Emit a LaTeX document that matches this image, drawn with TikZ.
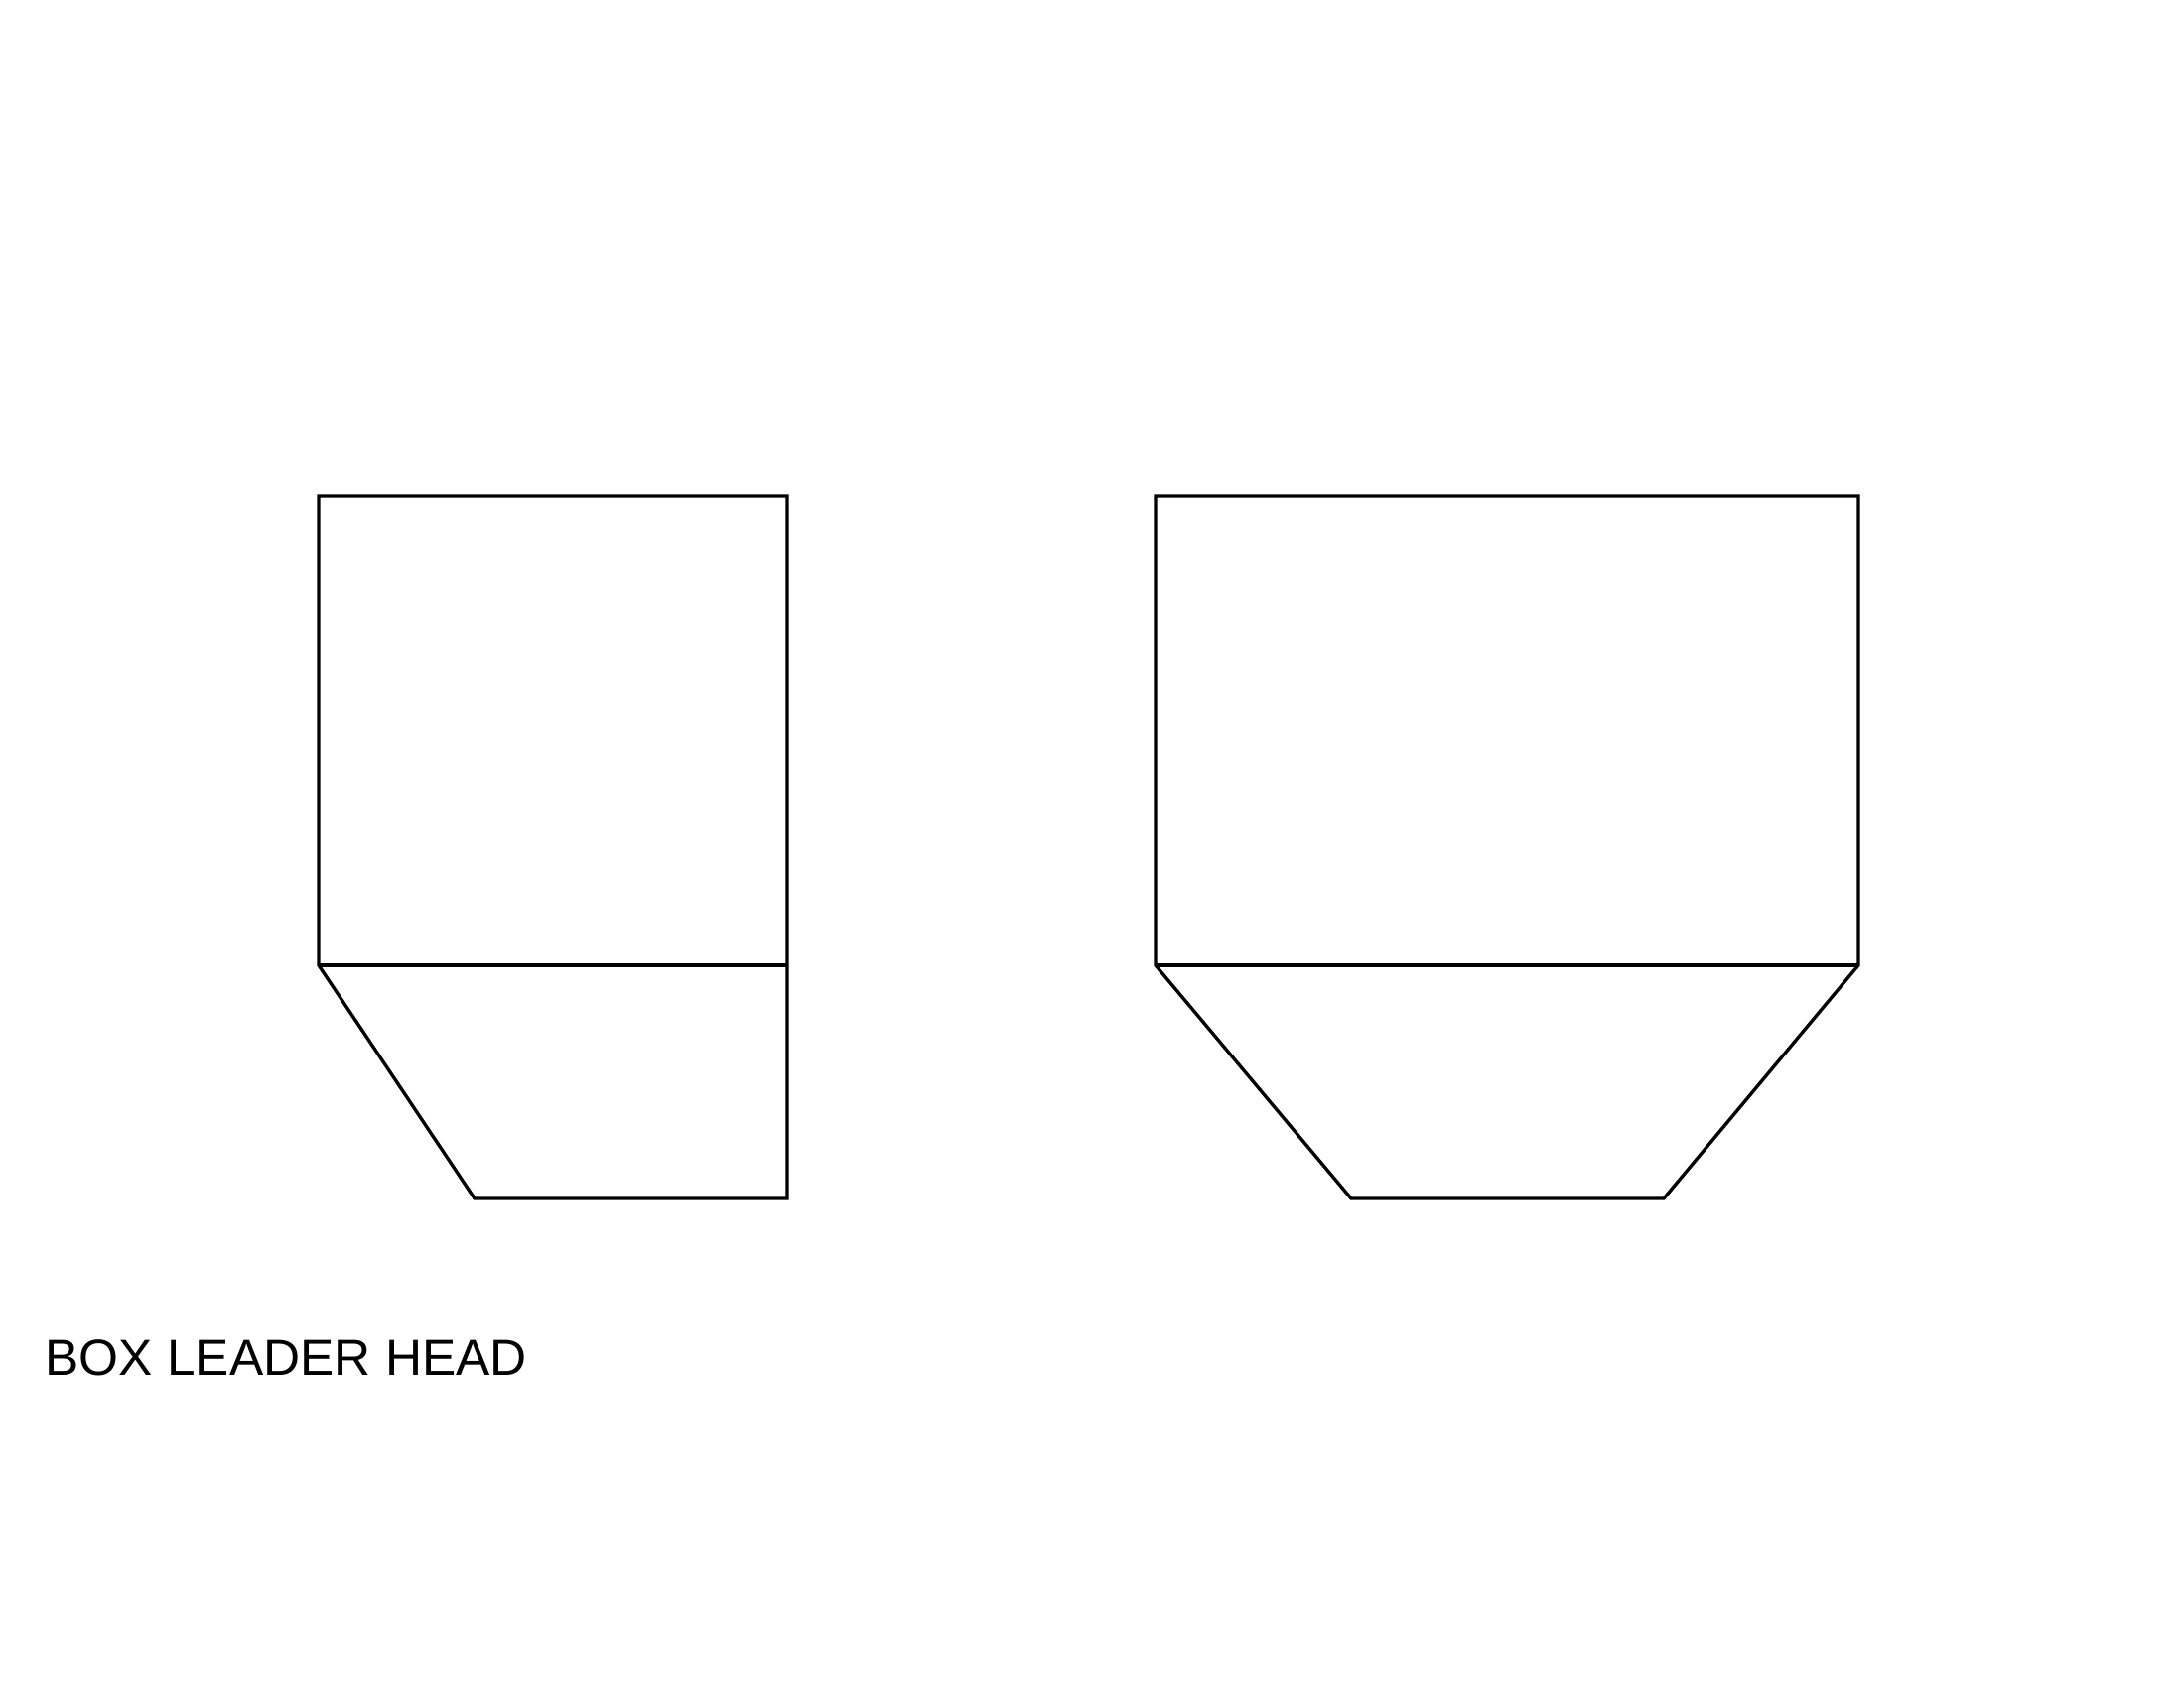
\documentclass[tikz,border=0pt]{standalone}
\usepackage{fontspec}
\setmainfont{Liberation Sans}
\usetikzlibrary{calc}

\begin{document}
\begin{tikzpicture}[x=0.01cm,y=-0.01cm,line width=0.95pt,line join=miter,
      every node/.style={inner sep=0pt}]
      \useasboundingbox(0,0)rectangle(2200,1700);
      % left head: one slanted side
      \draw(321,500)--(793,500)--(793,1207)--(478,1207)--(321,972)--cycle;
      \draw(321,972)--(793,972);
      % right head: two slanted sides
      \draw(1164,500)--(1872,500)--(1872,972)--(1676,1207)--(1361,1207)
         --(1164,972)--cycle;
      \draw(1164,972)--(1872,972);
      \node[anchor=base west,font=\fontsize{14.6}{17}\selectfont](title)
         at(44,1385){BOX LEADER HEAD};
    \end{tikzpicture}
\end{document}
